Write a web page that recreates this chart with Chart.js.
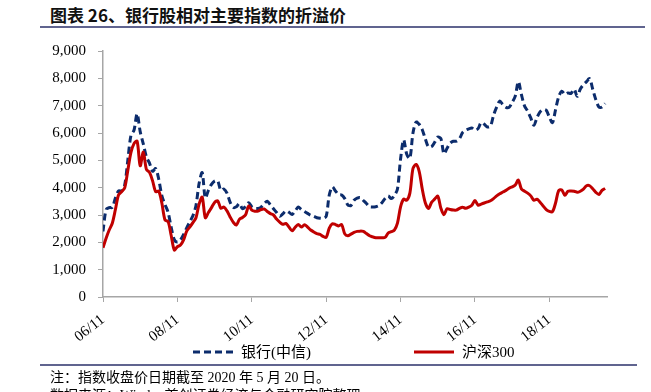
<!DOCTYPE html>
<html>
<head>
<meta charset="utf-8">
<script src="https://cdn.jsdelivr.net/npm/chart.js@4.4.0/dist/chart.umd.min.js"></script>
<style>
  body { margin: 0; width: 651px; height: 392px; overflow: hidden; background: #fff; position: relative;
         font-family: "Liberation Serif", "Noto Sans CJK SC", serif; color: #000; }
  #title { position: absolute; left: 50px; top: 2px; font: bold 17px "Noto Sans CJK SC", sans-serif; color: #111; white-space: nowrap; }
  .rule { position: absolute; left: 40px; height: 2px; background: #60648f; }
  #chartBox { position: absolute; left: 0; top: 30px; width: 651px; height: 320px; }
  .legend-item { position: absolute; top: 343px; height: 18px; display: flex; align-items: center; font-size: 15px; line-height: 18px; white-space: nowrap; }
  .legend-item svg { margin-right: 8px; }
  .note { position: absolute; left: 50px; font-size: 14px; line-height: 16px; white-space: nowrap; }
</style>
</head>
<body>
<div id="title">图表 26、银行股相对主要指数的折溢价</div>
<div class="rule" style="top:26px; width:605px;"></div>

<div id="chartBox"><canvas id="premiumChart" width="651" height="320"></canvas></div>

<div class="legend-item" style="left:193px;">
  <svg width="40" height="6"><line x1="0" y1="3" x2="40" y2="3" stroke="#0c2c6c" stroke-width="3" stroke-dasharray="7 4"/></svg>
  <span>银行(中信)</span>
</div>
<div class="legend-item" style="left:414px;">
  <svg width="40" height="6"><line x1="0" y1="3" x2="40" y2="3" stroke="#c00000" stroke-width="3"/></svg>
  <span>沪深300</span>
</div>

<div class="rule" style="top:364px; width:597px;"></div>
<div class="note" style="top:370px;">注：指数收盘价日期截至 2020 年 5 月 20 日。</div>
<div class="note" style="top:388px;">数据来源：Wind，首创证券经济与金融研究院整理</div>

<script>
// ========================================
// Data (monthly, starting 2006/11, index = month number)
// ========================================

const tickLabels = ['06/11', '08/11', '10/11', '12/11', '14/11', '16/11', '18/11'];
const monthsPerTick = 24;
const lastMonth = 162.6;

// 银行(中信)
const bankValues = [
    2400, 3200, 3270, 3280, 3620, 3880, 3880, 4100, 5000, 5900, 6100, 6700,
    6050, 5600, 5130, 4900, 4600, 4700, 4300, 3700, 3380, 3100, 2550, 2100,
    2010, 2090, 2290, 2530, 2750, 2970, 3350, 4150, 4550, 3620, 3900, 4120,
    4240, 4250, 3900, 3950, 3800, 3470, 3280, 3300, 3420, 3230, 3310, 3450,
    3300, 3240, 3240, 3290, 3420, 3500, 3370, 3230, 3090, 2950, 3040, 3150,
    3100, 3020, 3150, 3290, 3200, 3130, 3060, 2990, 2950, 2900, 2880, 2880,
    2950, 3730, 4030, 3880, 3750, 3730, 3600, 3370, 3350, 3540, 3620, 3640,
    3530, 3420, 3300, 3290, 3300, 3340, 3450, 3600, 3700, 3600, 3710, 3950,
    5050, 5750, 5220, 5070, 6000, 6400, 6320, 6120, 5780, 5490, 5500, 5660,
    5850, 5800, 5240, 5440, 5630, 5700, 5700, 5790, 6010, 6100, 6150, 6180,
    6100, 6160, 6380, 6320, 6220, 6250, 6650, 6950, 7170, 7040, 6940, 6940,
    7120, 7350, 7880, 7400, 6990, 6800, 6550, 6280, 6560, 6770, 6860, 6830,
    6580, 6380, 6850, 7320, 7530, 7410, 7460, 7450, 7600, 7340, 7610, 7770,
    7880, 7990, 7600, 7220, 6950, 6950, 7080
];

// 沪深300
const hs300Values = [
    1800, 2150, 2450, 2700, 3200, 3730, 3850, 3990, 4630, 5280, 5610, 5700,
    4800, 5300, 4670, 4560, 4250, 3850, 3870, 3430, 2820, 2760, 2250, 1720,
    1840, 1900, 2090, 2410, 2560, 2720, 2900, 3400, 3650, 2900, 3090, 3270,
    3460, 3520, 3250, 3290, 3150, 2930, 2740, 2630, 2840, 2910, 3010, 3330,
    3180, 3140, 3140, 3200, 3220, 3130, 3050, 3000, 2850, 2740, 2660, 2690,
    2560, 2420, 2550, 2650, 2560, 2640, 2560, 2450, 2380, 2320, 2290, 2220,
    2180, 2520, 2680, 2650, 2600, 2650, 2310, 2240, 2300, 2360, 2400, 2410,
    2400, 2320, 2240, 2200, 2170, 2170, 2170, 2180, 2340, 2390, 2450, 2700,
    3300, 3580, 3540, 3800, 4700, 4850, 4600, 3950, 3440, 3240, 3460, 3580,
    3690, 3250, 3010, 3230, 3200, 3180, 3180, 3240, 3280, 3250, 3290, 3360,
    3530, 3360, 3400, 3440, 3480, 3520, 3600, 3700, 3780, 3840, 3900, 3980,
    4030, 4100, 4280, 3950, 3870, 3800, 3700, 3540, 3580, 3470, 3330, 3200,
    3130, 3120, 3440, 3890, 3920, 3720, 3870, 3880, 3870, 3830, 3870, 3950,
    4070, 4070, 3960, 3830, 3750, 3900, 3970
];

const axisColor = '#a6a6a6';
const tickFont = { family: '"Liberation Serif", serif', size: 15 };

/**
 * Turn a monthly value list into {x, y} points (x = month index)
 */
function toPoints(values) {
    return values.map((v, i) => ({ x: i, y: v }));
}

const ctx = document.getElementById('premiumChart').getContext('2d');
const chart = new Chart(ctx, {
    type: 'line',
    data: {
        datasets: [{
            label: '银行(中信)',
            data: toPoints(bankValues),
            borderColor: '#0c2c6c',
            borderWidth: 3,
            borderDash: [7, 4],
            pointRadius: 0,
            tension: 0.3,
            fill: false,
            order: 1
        }, {
            label: '沪深300',
            data: toPoints(hs300Values),
            borderColor: '#c00000',
            borderWidth: 3,
            pointRadius: 0,
            tension: 0.3,
            fill: false,
            order: 0
        }]
    },
    options: {
        responsive: false,
        animation: false,
        layout: { padding: { top: 14, right: 44, left: 0, bottom: 0 } },
        plugins: {
            legend: { display: false },
            tooltip: { enabled: false }
        },
        scales: {
            x: {
                type: 'linear',
                min: 0,
                max: lastMonth,
                afterBuildTicks: scale => {
                    scale.ticks = tickLabels.map((_, k) => ({ value: k * monthsPerTick }));
                },
                afterFit: scale => { scale.height = 53; },
                ticks: {
                    callback: value => tickLabels[Math.round(value / monthsPerTick)],
                    autoSkip: false,
                    maxRotation: 38,
                    minRotation: 38,
                    padding: 9,
                    color: '#000',
                    font: tickFont
                },
                grid: { drawOnChartArea: false, tickLength: 5, color: axisColor },
                border: { color: axisColor, width: 1.5 }
            },
            y: {
                min: 0,
                max: 9000,
                afterFit: scale => { scale.width = 103; },
                ticks: {
                    stepSize: 1000,
                    padding: 12,
                    color: '#000',
                    font: tickFont
                },
                grid: { drawOnChartArea: false, tickLength: 5, color: axisColor },
                border: { color: axisColor, width: 1.5 }
            }
        }
    }
});
</script>
</body>
</html>
